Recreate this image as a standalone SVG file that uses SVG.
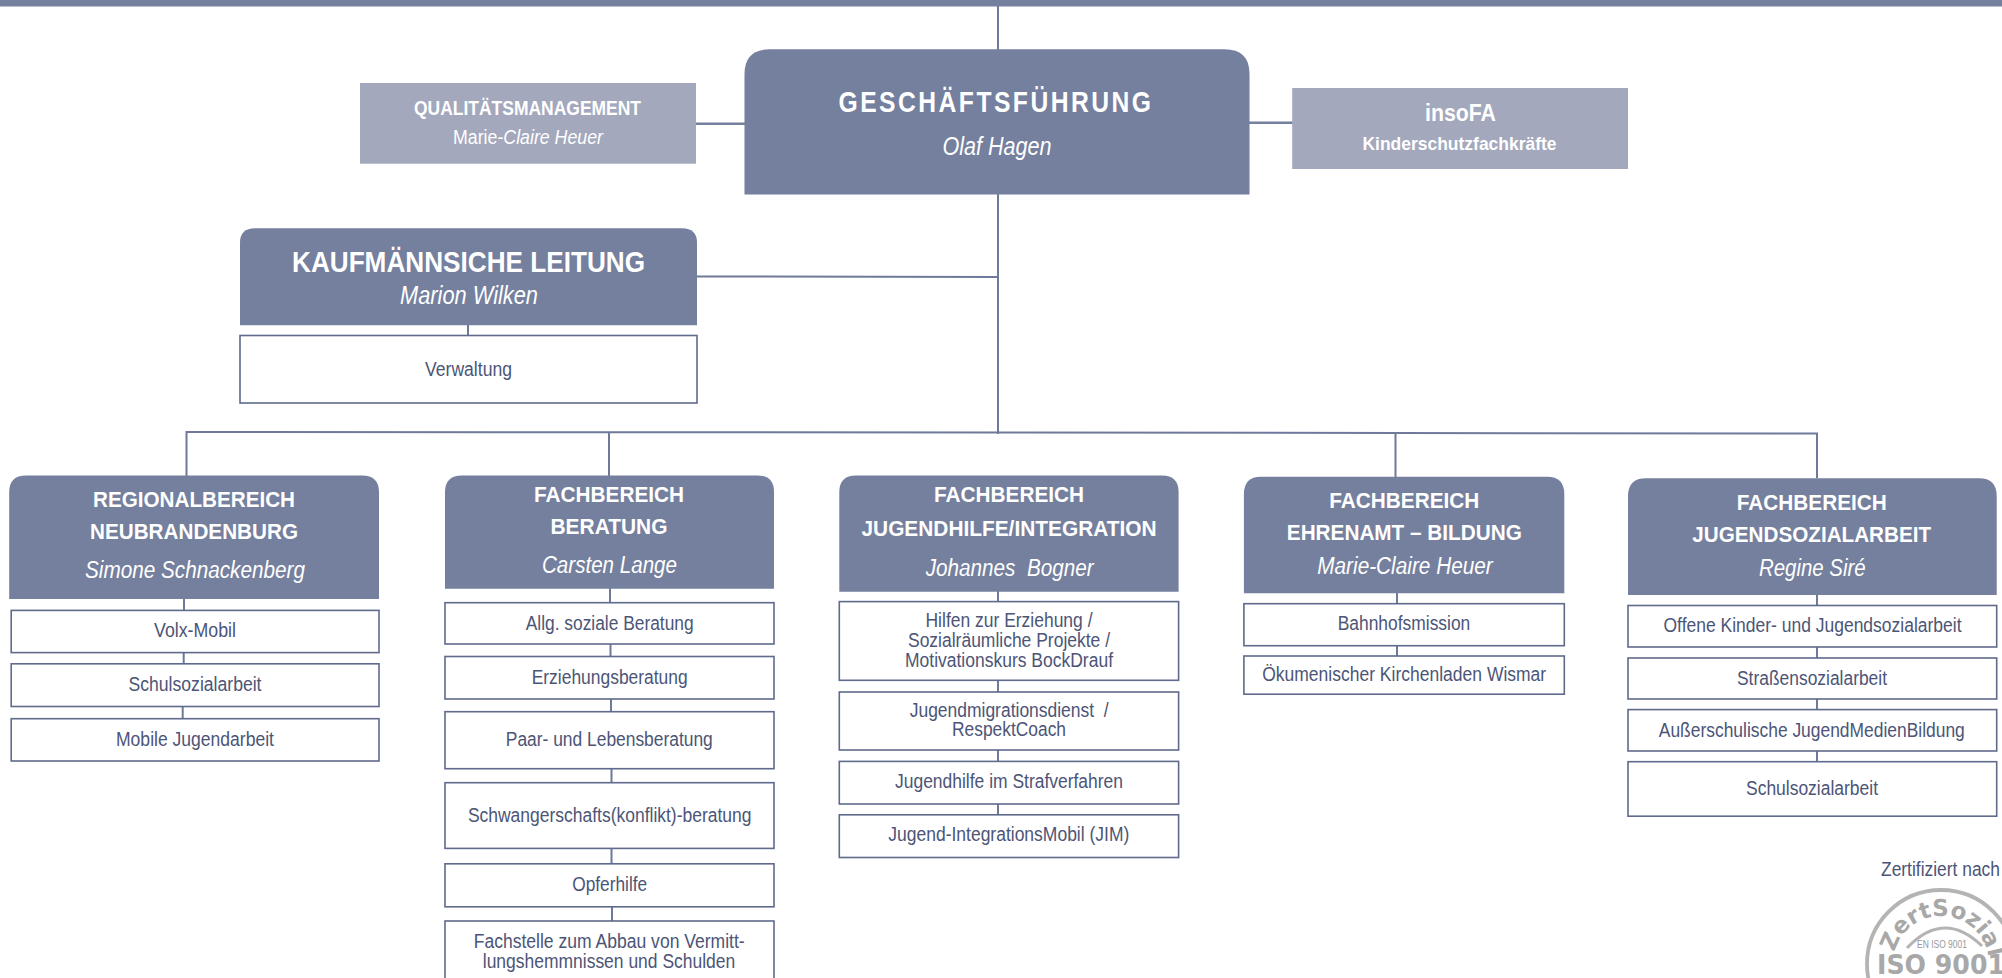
<svg xmlns="http://www.w3.org/2000/svg" width="2002" height="978" viewBox="0 0 2002 978" text-anchor="middle" font-family="'Liberation Sans',Arial,sans-serif">
<style>
.head{fill:#757f9e}
.side{fill:#a3a8bd}
.box{fill:#fff;stroke:#5f6a8c;stroke-width:1.6}
.conn{fill:none;stroke:#6f7a9a;stroke-width:2}
.thick{fill:none;stroke:#757f9e;stroke-width:2.6}
.h{fill:#fff;font-weight:bold;font-size:22.5px}
.n{fill:#fff;font-style:italic;font-size:23px}
.s{fill:#4c5577;font-size:19.5px}
.logo{fill:none;stroke:#b4b4b4}
.lt{fill:#a8a8a8;font-family:"DejaVu Sans",sans-serif;font-weight:bold}
</style>
<rect width="2002" height="978" fill="#fff"/>
<rect id="top-bar" class="head" x="0" y="0" width="2002" height="6.5"/>
<g id="connectors">
<path class="conn" d="M998 6V434"/>
<path class="thick" d="M696 123.700H745M1249 122.700H1293"/>
<path class="conn" d="M697 276.500L998 277"/>
<path class="conn" d="M468 325V336"/>
<path class="conn" d="M186.500 476V432L998 432.500L1817 433.500V478"/>
<path class="conn" d="M609 432.500V476M1395.500 433V477"/>
<path class="conn" d="M184 599V611M183.700 652V664M182.700 706V719"/>
<path class="conn" d="M610 588V603M610.500 644V657M611 699V712M611.500 768V783M611.500 848V864M612 906V921"/>
<path class="conn" d="M998 591V602M998 680V692M998 750V762M998 804V815"/>
<path class="conn" d="M1397 593V604M1397 645V656"/>
<path class="conn" d="M1817 595V606M1817 647V658M1817 699V710M1817 751V762"/>
</g>
<g id="geschaeftsfuehrung"><path class="head" d="M744.500 194.500V74Q744.500 49.300 769.500 49.300H1224.500Q1249.500 49.300 1249.500 74V194.500Z"/>
<text class="h" style="font-size:30px;letter-spacing:3px" x="996" y="111.500" textLength="315" lengthAdjust="spacingAndGlyphs">GESCHÄFTSFÜHRUNG</text>
<text class="n" style="font-size:25px" x="997" y="155" textLength="109" lengthAdjust="spacingAndGlyphs">Olaf Hagen</text></g>
<g id="qualitaetsmanagement"><rect class="side" x="360" y="83" width="336" height="80.700"/>
<text class="h" style="font-size:19.500px" x="527.500" y="115" textLength="227" lengthAdjust="spacingAndGlyphs">QUALITÄTSMANAGEMENT</text>
<text class="n" style="font-size:19.500px" x="528" y="144" textLength="150" lengthAdjust="spacingAndGlyphs"><tspan font-style="normal">Marie-</tspan>Claire Heuer</text></g>
<g id="insofa"><rect class="side" x="1292.200" y="88" width="335.800" height="81"/>
<text class="h" style="font-size:23px" x="1460.500" y="120.500" textLength="71" lengthAdjust="spacingAndGlyphs">insoFA</text>
<text class="h" style="font-size:18.500px" x="1459.500" y="149.500" textLength="194" lengthAdjust="spacingAndGlyphs">Kinderschutzfachkräfte</text></g>
<g id="kaufmaennische-leitung"><path class="head" d="M240 325.300V243Q240 228.300 255 228.300H682Q697 228.300 697 243V325.300Z"/>
<text class="h" style="font-size:30px" x="468.500" y="271.500" textLength="353" lengthAdjust="spacingAndGlyphs">KAUFMÄNNSICHE LEITUNG</text>
<text class="n" style="font-size:25px" x="469" y="304.300" textLength="138" lengthAdjust="spacingAndGlyphs">Marion Wilken</text></g>
<g id="verwaltung"><rect class="box" x="240" y="335.500" width="457" height="67.500"/>
<text class="s" x="468.500" y="375.500" textLength="87" lengthAdjust="spacingAndGlyphs">Verwaltung</text></g>

<g id="regionalbereich"><path class="head" d="M9.200 599V492Q9.200 475.400 26 475.400H362Q379 475.400 379 492V599Z"/>
<text class="h" x="194" y="506.600" textLength="202" lengthAdjust="spacingAndGlyphs">REGIONALBEREICH</text>
<text class="h" x="194" y="539" textLength="208" lengthAdjust="spacingAndGlyphs">NEUBRANDENBURG</text>
<text class="n" x="195" y="578" textLength="220" lengthAdjust="spacingAndGlyphs">Simone Schnackenberg</text></g>
<g id="volx-mobil"><rect class="box" x="11.200" y="610.400" width="367.800" height="42.200"/><text class="s" x="195" y="637.300" textLength="82" lengthAdjust="spacingAndGlyphs">Volx-Mobil</text></g>
<g id="schulsozialarbeit-nb"><rect class="box" x="11.200" y="663.800" width="367.800" height="42.700"/><text class="s" x="195" y="691" textLength="133" lengthAdjust="spacingAndGlyphs">Schulsozialarbeit</text></g>
<g id="mobile-jugendarbeit"><rect class="box" x="11.200" y="718.700" width="367.800" height="42.300"/><text class="s" x="195" y="746" textLength="158" lengthAdjust="spacingAndGlyphs">Mobile Jugendarbeit</text></g>

<g id="beratung"><path class="head" d="M445 588.700V492Q445 475.400 462 475.400H757Q774 475.400 774 492V588.700Z"/>
<text class="h" x="609" y="501.700" textLength="150" lengthAdjust="spacingAndGlyphs">FACHBEREICH</text>
<text class="h" x="609" y="533.500" textLength="117" lengthAdjust="spacingAndGlyphs">BERATUNG</text>
<text class="n" x="609.500" y="572.500" textLength="135" lengthAdjust="spacingAndGlyphs">Carsten Lange</text></g>
<g id="allg-soziale-beratung"><rect class="box" x="445" y="602.700" width="329" height="41.300"/><text class="s" x="609.700" y="629.600" textLength="168" lengthAdjust="spacingAndGlyphs">Allg. soziale Beratung</text></g>
<g id="erziehungsberatung"><rect class="box" x="445" y="656.500" width="329" height="42.500"/><text class="s" x="609.700" y="683.500" textLength="156" lengthAdjust="spacingAndGlyphs">Erziehungsberatung</text></g>
<g id="paar-lebensberatung"><rect class="box" x="445" y="711.700" width="329" height="57"/><text class="s" x="609.300" y="746.400" textLength="207" lengthAdjust="spacingAndGlyphs">Paar- und Lebensberatung</text></g>
<g id="schwangerschaftsberatung"><rect class="box" x="445" y="782.700" width="329" height="65.700"/><text class="s" x="609.700" y="821.500" textLength="283.600" lengthAdjust="spacingAndGlyphs">Schwangerschafts(konflikt)-beratung</text></g>
<g id="opferhilfe"><rect class="box" x="445" y="863.800" width="329" height="43"/><text class="s" x="609.700" y="891" textLength="75" lengthAdjust="spacingAndGlyphs">Opferhilfe</text></g>
<g id="fachstelle"><rect class="box" x="445" y="921" width="329" height="70"/><text class="s" x="609.200" y="948" textLength="271" lengthAdjust="spacingAndGlyphs">Fachstelle zum Abbau von Vermitt-</text><text class="s" x="609" y="968" textLength="252.500" lengthAdjust="spacingAndGlyphs">lungshemmnissen und Schulden</text></g>

<g id="jugendhilfe-integration"><path class="head" d="M839.300 591.800V492Q839.300 475.400 856 475.400H1162Q1178.600 475.400 1178.600 492V591.800Z"/>
<text class="h" x="1009" y="502.400" textLength="150" lengthAdjust="spacingAndGlyphs">FACHBEREICH</text>
<text class="h" x="1009" y="535.600" textLength="295" lengthAdjust="spacingAndGlyphs">JUGENDHILFE/INTEGRATION</text>
<text class="n" x="1009.700" y="575.800" textLength="168" lengthAdjust="spacingAndGlyphs" xml:space="preserve">Johannes  Bogner</text></g>
<g id="hilfen-zur-erziehung"><rect class="box" x="839.300" y="601.600" width="339.300" height="78.700"/>
<text class="s" x="1009" y="626.500" textLength="167" lengthAdjust="spacingAndGlyphs">Hilfen zur Erziehung /</text>
<text class="s" x="1009" y="646.800" textLength="202" lengthAdjust="spacingAndGlyphs">Sozialräumliche Projekte /</text>
<text class="s" x="1009" y="666.800" textLength="208" lengthAdjust="spacingAndGlyphs">Motivationskurs BockDrauf</text></g>
<g id="jugendmigrationsdienst"><rect class="box" x="839.300" y="692" width="339.300" height="58"/>
<text class="s" x="1009.200" y="717.400" textLength="199" lengthAdjust="spacingAndGlyphs" xml:space="preserve">Jugendmigrationsdienst  /</text>
<text class="s" x="1009" y="735.700" textLength="114" lengthAdjust="spacingAndGlyphs">RespektCoach</text></g>
<g id="jugendhilfe-strafverfahren"><rect class="box" x="839.300" y="761.400" width="339.300" height="42.600"/><text class="s" x="1009" y="788" textLength="228" lengthAdjust="spacingAndGlyphs">Jugendhilfe im Strafverfahren</text></g>
<g id="jim"><rect class="box" x="839.300" y="814.800" width="339.300" height="42.700"/><text class="s" x="1008.800" y="841.400" textLength="241" lengthAdjust="spacingAndGlyphs">Jugend-IntegrationsMobil (JIM)</text></g>

<g id="ehrenamt-bildung"><path class="head" d="M1243.900 593.200V494Q1243.900 476.800 1261 476.800H1547Q1564.300 476.800 1564.300 494V593.200Z"/>
<text class="h" x="1404.300" y="507.600" textLength="150" lengthAdjust="spacingAndGlyphs">FACHBEREICH</text>
<text class="h" x="1404.300" y="540" textLength="235" lengthAdjust="spacingAndGlyphs">EHRENAMT – BILDUNG</text>
<text class="n" x="1405" y="574" textLength="175.500" lengthAdjust="spacingAndGlyphs">Marie-Claire Heuer</text></g>
<g id="bahnhofsmission"><rect class="box" x="1243.900" y="603.700" width="320.400" height="42"/><text class="s" x="1404" y="630" textLength="132.600" lengthAdjust="spacingAndGlyphs">Bahnhofsmission</text></g>
<g id="kirchenladen"><rect class="box" x="1243.900" y="656" width="320.400" height="38.200"/><text class="s" x="1404.200" y="680.700" textLength="284" lengthAdjust="spacingAndGlyphs">Ökumenischer Kirchenladen Wismar</text></g>

<g id="jugendsozialarbeit"><path class="head" d="M1628 595V496Q1628 478.200 1646 478.200H1979Q1996.700 478.200 1996.700 496V595Z"/>
<text class="h" x="1811.800" y="510" textLength="150" lengthAdjust="spacingAndGlyphs">FACHBEREICH</text>
<text class="h" x="1811.700" y="541.500" textLength="238.700" lengthAdjust="spacingAndGlyphs">JUGENDSOZIALARBEIT</text>
<text class="n" x="1812.300" y="575.800" textLength="106.700" lengthAdjust="spacingAndGlyphs">Regine Siré</text></g>
<g id="offene-jugendsozialarbeit"><rect class="box" x="1628" y="605.500" width="368.700" height="41.500"/><text class="s" x="1812.500" y="632" textLength="298" lengthAdjust="spacingAndGlyphs">Offene Kinder- und Jugendsozialarbeit</text></g>
<g id="strassensozialarbeit"><rect class="box" x="1628" y="658" width="368.700" height="41"/><text class="s" x="1812" y="684.800" textLength="150" lengthAdjust="spacingAndGlyphs">Straßensozialarbeit</text></g>
<g id="jugendmedienbildung"><rect class="box" x="1628" y="709.600" width="368.700" height="41.400"/><text class="s" x="1811.800" y="736.600" textLength="306" lengthAdjust="spacingAndGlyphs">Außerschulische JugendMedienBildung</text></g>
<g id="schulsozialarbeit-js"><rect class="box" x="1628" y="761.700" width="368.700" height="54.500"/><text class="s" x="1812" y="795.300" textLength="132" lengthAdjust="spacingAndGlyphs">Schulsozialarbeit</text></g>

<g id="zertifizierung">
<text class="s" x="1940.500" y="876" textLength="119" lengthAdjust="spacingAndGlyphs">Zertifiziert nach</text>
<circle class="logo" cx="1941" cy="964" r="74" stroke-width="3.800"/>
<path class="logo" stroke-width="3" d="M1907 948Q1944 909 1982 946"/>
<path id="arc" fill="none" transform="rotate(3 1941 964)" d="M1893 964A48 48 0 0 1 1989 964"/>
<text class="lt" font-size="23"><textPath href="#arc" startOffset="50%">ZertSozial</textPath></text>
<text fill="#999" font-size="10.500" x="1942" y="948" textLength="50" lengthAdjust="spacingAndGlyphs">EN ISO 9001</text>
<text class="lt" font-size="26" x="1941" y="974" textLength="128" lengthAdjust="spacingAndGlyphs" xml:space="preserve">ISO 9001</text>
</g>
</svg>
